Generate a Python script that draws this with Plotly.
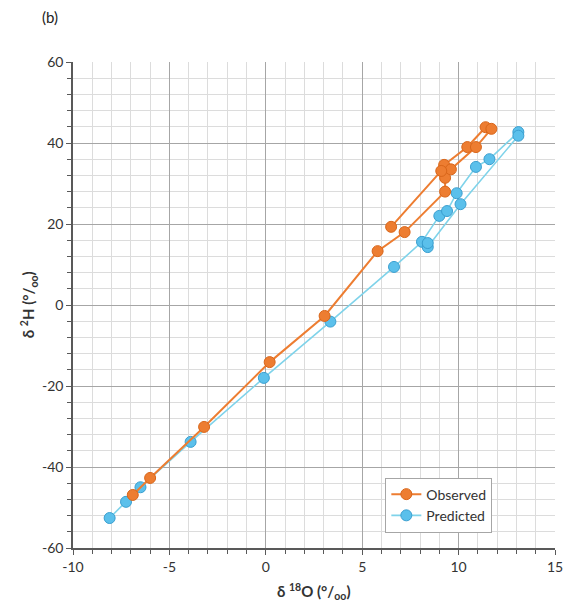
import plotly.graph_objects as go

# Observed isotope composition (delta 18O, delta 2H), in sampling order
obs_d18o = [-6.9, -6.0, -3.2, 0.2, 3.05, 5.8, 7.2, 9.3, 9.3, 9.25, 10.45, 11.4, 11.7, 10.9, 9.6, 9.1, 6.5]
obs_d2h = [-46.9, -42.7, -30.1, -14.1, -2.7, 13.3, 18.0, 28.0, 31.4, 34.6, 39.0, 43.9, 43.5, 39.0, 33.5, 33.1, 19.3]

# Model-predicted isotope composition
pred_d18o = [-8.1, -7.25, -6.5, -3.9, -0.1, 3.35, 6.65, 8.1, 9.0, 9.4, 9.9, 10.9, 11.6, 13.1, 13.1, 10.1, 8.4, 8.4]
pred_d2h = [-52.6, -48.6, -45.0, -33.8, -18.0, -4.1, 9.4, 15.6, 22.0, 23.2, 27.6, 34.1, 36.0, 42.7, 41.8, 24.9, 14.3, 15.3]

x_ticks = [-10, -5, 0, 5, 10, 15]
x_ticklabels = ["-10", "-5", "0", "5", "10", "15"]
y_ticks = [-60, -40, -20, 0, 20, 40, 60]
y_ticklabels = ["-60", "-40", "-20", "0", "20", "40", "60"]

FONT = "Lato, 'Liberation Sans', sans-serif"
TEXT = "#333333"

fig = go.Figure()
fig.add_trace(go.Scatter(
    x=pred_d18o, y=pred_d2h, name="Predicted", mode="lines+markers",
    line=dict(color="#7fd3ea", width=1.6),
    marker=dict(size=11, color="#5bc0eb", line=dict(color="#3a9fd0", width=1)),
))
fig.add_trace(go.Scatter(
    x=obs_d18o, y=obs_d2h, name="Observed", mode="lines+markers",
    line=dict(color="#ed7d31", width=2),
    marker=dict(size=11, color="#ed7d31", line=dict(color="#d9661a", width=1)),
))

axis_common = dict(
    showgrid=True, gridcolor="#a6a6a6", gridwidth=1,
    zeroline=False, showline=True, linecolor="#595959", linewidth=1.5,
    ticks="outside", ticklen=5, tickcolor="#595959",
    tickfont=dict(family=FONT, size=14, color=TEXT),
    mirror=False, automargin=False,
)

fig.update_xaxes(
    range=[-10, 15], tickvals=x_ticks, ticktext=x_ticklabels,
    minor=dict(dtick=1, showgrid=True, gridcolor="#dcdcdc", ticks="outside",
               ticklen=4, tickcolor="#595959"),
    **axis_common,
)
fig.update_yaxes(
    range=[-60, 60], tickvals=y_ticks, ticktext=y_ticklabels,
    minor=dict(dtick=4, showgrid=True, gridcolor="#dcdcdc", ticks="outside",
               ticklen=4, tickcolor="#595959"),
    **axis_common,
)

title_font = dict(family=FONT, size=15, color=TEXT)
fig.update_layout(
    width=573, height=607,
    margin=dict(l=73, r=18, t=62, b=59),
    paper_bgcolor="white", plot_bgcolor="white",
    showlegend=True,
    legend=dict(
        x=0.648, y=0.145, xanchor="left", yanchor="top",
        bgcolor="white", bordercolor="#a6a6a6", borderwidth=1,
        font=dict(family=FONT, size=14, color=TEXT),
        traceorder="reversed", itemwidth=30, tracegroupgap=4,
    ),
    annotations=[
        dict(text="(b)", xref="paper", yref="paper", x=-0.068, y=1.093,
             xanchor="left", yanchor="middle", showarrow=False,
             font=dict(family=FONT, size=15, color="#222222")),
        dict(text="<b>δ <sup>18</sup>O (°/<sub>oo</sub>)</b>", xref="paper", yref="paper",
             x=0.5, y=-0.09, xanchor="center", yanchor="middle", showarrow=False,
             font=title_font),
        dict(text="<b>δ <sup>2</sup>H (°/<sub>oo</sub>)</b>", xref="paper", yref="paper",
             x=-0.093, y=0.5, xanchor="center", yanchor="middle", showarrow=False,
             textangle=-90, font=title_font),
    ],
)

fig.write_html("out.html")
